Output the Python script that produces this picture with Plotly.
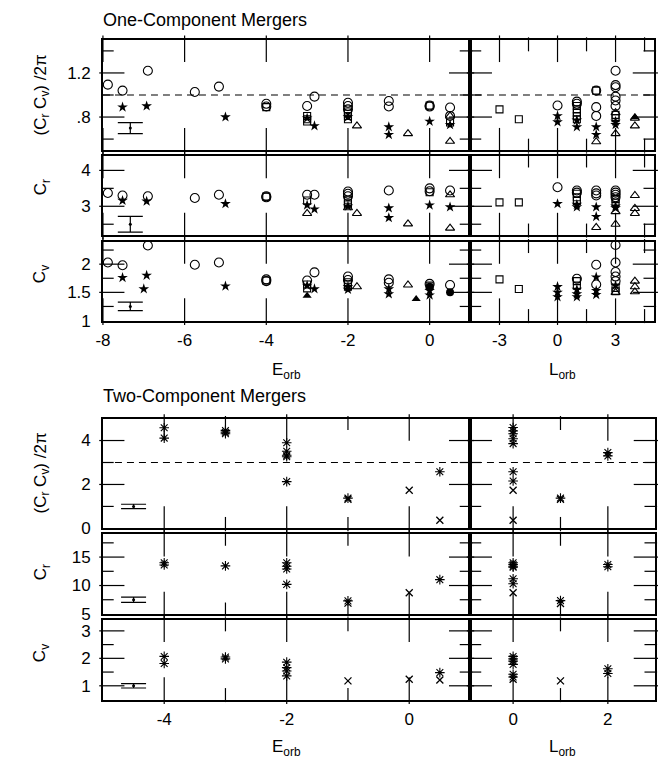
import plotly.graph_objects as go

W, H = 666, 764

# ---------------- data: one-component mergers ----------------
A_E_circ_x = [-7.88, -7.52, -6.9, -5.75, -5.16, -4, -4, -3, -2.82, -2, -2, -2, -1, -1, 0, 0, 0.5, 0.5]
A_E_circ_y = [1.094, 1.04, 1.22, 1.027, 1.076, 0.92, 0.896, 0.90, 0.985, 0.93, 0.90, 0.87, 0.946, 0.896, 0.905, 0.895, 0.887, 0.81]
A_E_star_x = [-7.52, -6.93, -5.0, -3, -2.82, -2, -1, -1, 0, 0.5]
A_E_star_y = [0.89, 0.90, 0.80, 0.79, 0.72, 0.80, 0.71, 0.64, 0.76, 0.73]
A_E_sq_x = [-4, -3, -3, -3, -2, -2, -2, -2, 0, 0.5]
A_E_sq_y = [0.89, 0.81, 0.78, 0.76, 0.85, 0.83, 0.81, 0.78, 0.905, 0.75]
A_E_tri_x = [-1.78, -0.53, 0.5, 0.5]
A_E_tri_y = [0.72, 0.65, 0.81, 0.58]

A_L_circ_x = [0, 1, 1, 2, 2, 2, 3, 3, 3, 3, 3, 3]
A_L_circ_y = [0.905, 0.94, 0.92, 1.04, 0.89, 0.81, 1.22, 1.09, 1.07, 0.985, 0.95, 0.90]
A_L_star_x = [0, 0, 1, 1, 2, 2, 3, 3]
A_L_star_y = [0.81, 0.755, 0.77, 0.71, 0.71, 0.64, 0.76, 0.73]
A_L_sq_x = [-3, -2, 1, 1, 1, 1, 1, 2, 3, 3]
A_L_sq_y = [0.87, 0.78, 0.90, 0.87, 0.84, 0.81, 0.78, 1.04, 0.82, 0.79]
A_L_tri_x = [2, 3, 3, 4, 4]
A_L_tri_y = [0.576, 0.84, 0.65, 0.79, 0.72]
A_L_ftri_x = [4]
A_L_ftri_y = [0.80]

B_E_circ_x = [-7.88, -7.52, -6.9, -5.75, -5.16, -4, -4, -3, -2.82, -2, -2, -2, -1, 0, 0, 0.5]
B_E_circ_y = [3.37, 3.30, 3.28, 3.23, 3.32, 3.28, 3.25, 3.32, 3.32, 3.41, 3.35, 3.28, 3.44, 3.50, 3.42, 3.44]
B_E_star_x = [-7.52, -6.93, -5.0, -3, -2.82, -2, -1, -1, 0, 0.5]
B_E_star_y = [3.16, 3.14, 3.07, 3.03, 2.92, 3.00, 2.95, 2.68, 3.03, 2.98]
B_E_sq_x = [-4, -3, -2, -2, -2, 0]
B_E_sq_y = [3.27, 3.16, 3.18, 3.10, 3.05, 3.39]
B_E_tri_x = [-3, -1.78, -0.53, 0.5, 0.5, -2]
B_E_tri_y = [2.80, 2.80, 2.51, 3.32, 2.39, 2.96]

B_L_circ_x = [0, 1, 1, 2, 2, 2, 3, 3, 3, 3]
B_L_circ_y = [3.53, 3.44, 3.38, 3.44, 3.36, 3.30, 3.44, 3.38, 3.32, 3.25]
B_L_star_x = [0, 1, 1, 2, 2, 3, 3]
B_L_star_y = [3.07, 3.05, 2.98, 2.98, 2.71, 3.00, 2.95]
B_L_sq_x = [-3, -2, 1, 1, 1, 3, 3]
B_L_sq_y = [3.11, 3.11, 3.35, 3.25, 3.15, 3.20, 3.10]
B_L_tri_x = [2, 3, 3, 4, 4, 4]
B_L_tri_y = [2.41, 2.50, 2.85, 3.30, 2.94, 2.80]

C_E_circ_x = [-7.88, -7.52, -6.9, -5.75, -5.16, -4, -4, -3, -2.82, -2, -2, -1, -1, 0, 0.5]
C_E_circ_y = [2.03, 1.98, 2.33, 1.99, 2.03, 1.73, 1.70, 1.71, 1.855, 1.78, 1.72, 1.73, 1.67, 1.65, 1.63]
C_E_star_x = [-7.52, -6.93, -7.0, -5.0, -2.82, -3, -2, -2, -1, -1, 0, 0]
C_E_star_y = [1.76, 1.80, 1.56, 1.61, 1.56, 1.62, 1.60, 1.55, 1.56, 1.47, 1.53, 1.45]
C_E_sq_x = [-4, -3, -3, -2, -2, -2, 0]
C_E_sq_y = [1.71, 1.64, 1.57, 1.68, 1.64, 1.60, 1.62]
C_E_tri_x = [-1.78, -0.53]
C_E_tri_y = [1.60, 1.63]
C_E_ftri_x = [-3, -0.33]
C_E_ftri_y = [1.44, 1.38]
C_E_fcirc_x = [0.5, 0]
C_E_fcirc_y = [1.50, 1.60]

C_L_circ_x = [1, 2, 2, 3, 3, 3, 3, 3]
C_L_circ_y = [1.74, 1.99, 1.64, 2.34, 2.03, 1.86, 1.78, 1.70]
C_L_star_x = [0, 0, 0, 1, 1, 1, 2, 2, 2, 3]
C_L_star_y = [1.60, 1.50, 1.42, 1.55, 1.47, 1.42, 1.77, 1.53, 1.46, 1.62]
C_L_sq_x = [-3, -2, 1, 1, 3, 3]
C_L_sq_y = [1.73, 1.56, 1.70, 1.62, 1.58, 1.52]
C_L_tri_x = [4, 4, 4, 3]
C_L_tri_y = [1.70, 1.60, 1.51, 1.50]

# ---------------- data: two-component mergers ----------------
D_E_ast_x = [-4, -4, -3, -3, -3, -2, -2, -2, -2, -2, -1, 0.5]
D_E_ast_y = [4.58, 4.11, 4.46, 4.38, 4.31, 3.90, 3.51, 3.33, 3.26, 2.13, 1.38, 2.58]
D_E_x_x = [-1, 0, 0.5]
D_E_x_y = [1.33, 1.74, 0.37]
D_L_ast_x = [0, 0, 0, 0, 0, 0, 0, 1, 2, 2]
D_L_ast_y = [4.59, 4.44, 4.31, 4.08, 3.86, 2.58, 2.16, 1.38, 3.45, 3.30]
D_L_x_x = [0, 0, 1]
D_L_x_y = [1.74, 0.37, 1.33]

E_E_ast_x = [-4, -4, -3, -2, -2, -2, -2, -1, 0.5]
E_E_ast_y = [14.0, 13.6, 13.45, 14.0, 13.4, 12.9, 10.2, 7.3, 11.03]
E_E_x_x = [-1, 0]
E_E_x_y = [6.9, 8.74]
E_L_ast_x = [0, 0, 0, 0, 0, 0, 1, 2, 2]
E_L_ast_y = [14.0, 13.7, 13.4, 13.2, 11.2, 10.3, 7.35, 13.7, 13.3]
E_L_x_x = [0, 1]
E_L_x_y = [8.74, 6.85]

F_E_ast_x = [-4, -4, -3, -3, -2, -2, -2, -2, 0.5]
F_E_ast_y = [2.07, 1.81, 2.05, 1.98, 1.86, 1.66, 1.54, 1.36, 1.48]
F_E_x_x = [-1, 0, 0.5]
F_E_x_y = [1.18, 1.24, 1.21]
F_L_ast_x = [0, 0, 0, 0, 0, 0, 2, 2]
F_L_ast_y = [2.07, 1.98, 1.90, 1.78, 1.42, 1.32, 1.62, 1.45]
F_L_x_x = [0, 1]
F_L_x_y = [1.24, 1.18]

err_top_x = -7.33
err_top_y = [0.70, 2.5, 1.25]
err_top_e = [0.05, 0.22, 0.075]
err_bot_x = -4.5
err_bot_y = [1.0, 7.5, 1.0]
err_bot_e = [0.1, 0.45, 0.08]

# ---------------- layout ----------------
FONT = "Liberation Sans, Arial, Helvetica, sans-serif"
fig = go.Figure()
layout = {}

def px_x(p):
    return p / W

def px_y(p):
    return 1 - p / H

def key(i):
    return "" if i == 1 else str(i)

MAJ_LEN, MIN_LEN = 18, 9

def tick_marks(s, xr, yr, wpx, hpx, xvals, yvals, ln):
    """inward tick marks on all four sides, drawn as line-shaped markers of length ln px"""
    dx, dy = xr[1] - xr[0], yr[1] - yr[0]
    hy = (ln / 2) / hpx * dy
    hx = (ln / 2) / wpx * dx
    if xvals:
        tx = [v for v in xvals for _ in (0, 1)]
        ty = [yr[0] + hy, yr[1] - hy] * len(xvals)
        fig.add_trace(go.Scatter(x=tx, y=ty, xaxis="x" + s, yaxis="y" + s, mode="markers",
                                 marker=dict(symbol="line-ns-open", size=ln + 1, color="black",
                                             line=dict(color="black", width=1.2)),
                                 showlegend=False, hoverinfo="skip", cliponaxis=False))
    if yvals:
        tx = [xr[0] + hx, xr[1] - hx] * len(yvals)
        ty = [v for v in yvals for _ in (0, 1)]
        fig.add_trace(go.Scatter(x=tx, y=ty, xaxis="x" + s, yaxis="y" + s, mode="markers",
                                 marker=dict(symbol="line-ew-open", size=ln, color="black",
                                             line=dict(color="black", width=1.2)),
                                 showlegend=False, hoverinfo="skip", cliponaxis=False))

def add_panel(i, xd, yd, xr, yr, xmaj, xmaj_txt, xmin, ymaj, ymaj_txt, ymin):
    s = key(i)
    common = dict(showline=True, mirror=True, linecolor="black", linewidth=1.5,
                  ticks="", showgrid=False, zeroline=False, tickmode="array",
                  tickfont=dict(family=FONT, size=17, color="black"))
    layout["xaxis" + s] = dict(common, domain=[px_x(xd[0]), px_x(xd[1])], range=xr,
                               anchor="y" + s, tickvals=xmaj,
                               ticktext=xmaj_txt if xmaj_txt else [""] * len(xmaj),
                               ticklabelstandoff=3)
    layout["yaxis" + s] = dict(common, domain=[px_y(yd[1]), px_y(yd[0])], range=yr,
                               anchor="x" + s, tickvals=ymaj,
                               ticktext=ymaj_txt if ymaj_txt else [""] * len(ymaj),
                               ticklabelstandoff=7)
    wpx, hpx = xd[1] - xd[0], yd[1] - yd[0]
    tick_marks(s, xr, yr, wpx, hpx, xmaj, ymaj, MAJ_LEN)
    tick_marks(s, xr, yr, wpx, hpx, xmin, ymin, MIN_LEN)

TL = (88, 460)
TR = (460, 646)
BL = (88, 460)
BR = (460, 647)
YA, YB, YC = (32.3, 144), (150, 230), (236.7, 316.7)
YD, YE, YF = (416, 527.3), (533.3, 614), (620, 700.7)

E1r, L1r = [-8, 1], [-4.5, 5]
E2r, L2r = [-5, 1], [-0.9, 3]
E1min = []
L1maj, L1min = [-3, 0, 3], [-1.5, 1.5, 4.5]
E2maj, E2min = [-4, -2, 0], [-3, -1]
L2maj, L2min = [0, 2], [1]
E1lab = [-8, -6, -4, -2, 0]

add_panel(1, TL, YA, E1r, [0.5, 1.5], E1lab, None, E1min, [0.8, 1.2], [".8", "1.2"], [0.6, 1.0, 1.4])
add_panel(2, TR, YA, L1r, [0.5, 1.5], L1maj, None, L1min, [0.8, 1.2], None, [0.6, 1.0, 1.4])
add_panel(3, TL, YB, E1r, [2.2, 4.4], E1lab, None, E1min, [3, 4], ["3", "4"], [2.5, 3.5])
add_panel(4, TR, YB, L1r, [2.2, 4.4], L1maj, None, L1min, [3, 4], None, [2.5, 3.5])
add_panel(5, TL, YC, E1r, [1.0, 2.4], E1lab, ["-8", "-6", "-4", "-2", "0"], E1min,
          [1.5, 2], ["1.5", "2"], [1.25, 1.75, 2.25])
add_panel(6, TR, YC, L1r, [1.0, 2.4], L1maj, ["-3", "0", "3"], L1min, [1.5, 2], None, [1.25, 1.75, 2.25])
add_panel(7, BL, YD, E2r, [0, 5], E2maj, None, E2min, [2, 4], ["2", "4"], [1, 3])
add_panel(8, BR, YD, L2r, [0, 5], L2maj, None, L2min, [2, 4], None, [1, 3])
add_panel(9, BL, YE, E2r, [5, 19], E2maj, None, E2min, [10, 15], ["10", "15"], [7.5, 12.5, 17.5])
add_panel(10, BR, YE, L2r, [5, 19], L2maj, None, L2min, [10, 15], None, [7.5, 12.5, 17.5])
add_panel(11, BL, YF, E2r, [0.5, 3.4], E2maj, ["-4", "-2", "0"], E2min, [1, 2, 3], ["1", "2", "3"], [1.5, 2.5])
add_panel(12, BR, YF, L2r, [0.5, 3.4], L2maj, ["0", "2"], L2min, [1, 2, 3], None, [1.5, 2.5])

# edge-value tick labels (they sit on the frame, so no tick mark is drawn for them)
layout["yaxis5"].update(tickvals=[1, 1.5, 2], ticktext=["1", "1.5", "2"])
layout["yaxis7"].update(tickvals=[0, 2, 4], ticktext=["0", "2", "4"])
layout["yaxis9"].update(tickvals=[5, 10, 15], ticktext=["5", "10", "15"])

STY = {
    "circ": dict(symbol="circle-open", size=9, color="black", line=dict(color="black", width=1.1)),
    "star": dict(symbol="star", size=8, color="black", line=dict(width=0)),
    "sq": dict(symbol="square-open", size=7, color="black", line=dict(color="black", width=1.1)),
    "tri": dict(symbol="triangle-up-open", size=8, color="black", line=dict(color="black", width=1.1)),
    "ftri": dict(symbol="triangle-up", size=8, color="black", line=dict(width=0)),
    "fcirc": dict(symbol="circle", size=8, color="black", line=dict(width=0)),
    "ast": dict(symbol="asterisk-open", size=8, color="black", line=dict(color="black", width=1.1)),
    "x": dict(symbol="x-thin-open", size=7, color="black", line=dict(color="black", width=1.3)),
}

def pts(i, xs_, ys_, sty):
    s = key(i)
    fig.add_trace(go.Scatter(x=xs_, y=ys_, xaxis="x" + s, yaxis="y" + s, mode="markers",
                             marker=STY[sty], showlegend=False, cliponaxis=False))

pts(1, A_E_circ_x, A_E_circ_y, "circ"); pts(1, A_E_sq_x, A_E_sq_y, "sq")
pts(1, A_E_tri_x, A_E_tri_y, "tri"); pts(1, A_E_star_x, A_E_star_y, "star")
pts(2, A_L_circ_x, A_L_circ_y, "circ"); pts(2, A_L_sq_x, A_L_sq_y, "sq")
pts(2, A_L_tri_x, A_L_tri_y, "tri"); pts(2, A_L_ftri_x, A_L_ftri_y, "ftri")
pts(2, A_L_star_x, A_L_star_y, "star")
pts(3, B_E_circ_x, B_E_circ_y, "circ"); pts(3, B_E_sq_x, B_E_sq_y, "sq")
pts(3, B_E_tri_x, B_E_tri_y, "tri"); pts(3, B_E_star_x, B_E_star_y, "star")
pts(4, B_L_circ_x, B_L_circ_y, "circ"); pts(4, B_L_sq_x, B_L_sq_y, "sq")
pts(4, B_L_tri_x, B_L_tri_y, "tri"); pts(4, B_L_star_x, B_L_star_y, "star")
pts(5, C_E_circ_x, C_E_circ_y, "circ"); pts(5, C_E_sq_x, C_E_sq_y, "sq")
pts(5, C_E_tri_x, C_E_tri_y, "tri"); pts(5, C_E_ftri_x, C_E_ftri_y, "ftri")
pts(5, C_E_fcirc_x, C_E_fcirc_y, "fcirc"); pts(5, C_E_star_x, C_E_star_y, "star")
pts(6, C_L_circ_x, C_L_circ_y, "circ"); pts(6, C_L_sq_x, C_L_sq_y, "sq")
pts(6, C_L_tri_x, C_L_tri_y, "tri"); pts(6, C_L_star_x, C_L_star_y, "star")

pts(7, D_E_ast_x, D_E_ast_y, "ast"); pts(7, D_E_x_x, D_E_x_y, "x")
pts(8, D_L_ast_x, D_L_ast_y, "ast"); pts(8, D_L_x_x, D_L_x_y, "x")
pts(9, E_E_ast_x, E_E_ast_y, "ast"); pts(9, E_E_x_x, E_E_x_y, "x")
pts(10, E_L_ast_x, E_L_ast_y, "ast"); pts(10, E_L_x_x, E_L_x_y, "x")
pts(11, F_E_ast_x, F_E_ast_y, "ast"); pts(11, F_E_x_x, F_E_x_y, "x")
pts(12, F_L_ast_x, F_L_ast_y, "ast"); pts(12, F_L_x_x, F_L_x_y, "x")

for i, yv, ev in zip([1, 3, 5], err_top_y, err_top_e):
    s = key(i)
    fig.add_trace(go.Scatter(x=[err_top_x], y=[yv], xaxis="x" + s, yaxis="y" + s, mode="markers",
                             marker=dict(symbol="circle", size=3, color="black"),
                             error_y=dict(type="data", array=[ev], color="black", thickness=1.2, width=12.5),
                             showlegend=False))
for i, yv, ev in zip([7, 9, 11], err_bot_y, err_bot_e):
    s = key(i)
    fig.add_trace(go.Scatter(x=[err_bot_x], y=[yv], xaxis="x" + s, yaxis="y" + s, mode="markers",
                             marker=dict(symbol="circle", size=3, color="black"),
                             error_y=dict(type="data", array=[ev], color="black", thickness=1.2, width=12.5),
                             showlegend=False))

shapes = [
    dict(type="line", xref="paper", x0=px_x(88), x1=px_x(646), yref="y", y0=1.0, y1=1.0,
         line=dict(color="black", width=1.2, dash="7px,5px")),
    dict(type="line", xref="paper", x0=px_x(88), x1=px_x(647), yref="y7", y0=3.0, y1=3.0,
         line=dict(color="black", width=1.2, dash="7px,5px")),
]

def ann(text, x, y, size=17, angle=0, xanchor="center", yanchor="middle"):
    return dict(text=text, x=px_x(x), y=px_y(y), xref="paper", yref="paper", showarrow=False,
                textangle=angle, xanchor=xanchor, yanchor=yanchor,
                font=dict(family=FONT, size=size, color="black"))

annotations = [
    ann("One-Component Mergers", 86, 12, size=18, xanchor="left"),
    ann("Two-Component Mergers", 86, 393, size=18, xanchor="left"),
    ann("(C<sub>r</sub> C<sub>v</sub>) /2π", 26, 88, angle=-90),
    ann("C<sub>r</sub>", 26, 182, angle=-90),
    ann("C<sub>v</sub>", 26, 270, angle=-90),
    ann("(C<sub>r</sub> C<sub>v</sub>) /2π", 26, 471, angle=-90),
    ann("C<sub>r</sub>", 26, 572, angle=-90),
    ann("C<sub>v</sub>", 26, 654, angle=-90),
    ann("E<sub>orb</sub>", 274, 368),
    ann("L<sub>orb</sub>", 553, 368),
    ann("E<sub>orb</sub>", 274, 750),
    ann("L<sub>orb</sub>", 553, 750),
]

fig.update_layout(width=W, height=H, margin=dict(l=0, r=0, t=0, b=0, pad=0),
                  paper_bgcolor="white", plot_bgcolor="white",
                  shapes=shapes, annotations=annotations, showlegend=False,
                  font=dict(family=FONT, size=17, color="black"), **layout)

fig.write_html("out.html")
